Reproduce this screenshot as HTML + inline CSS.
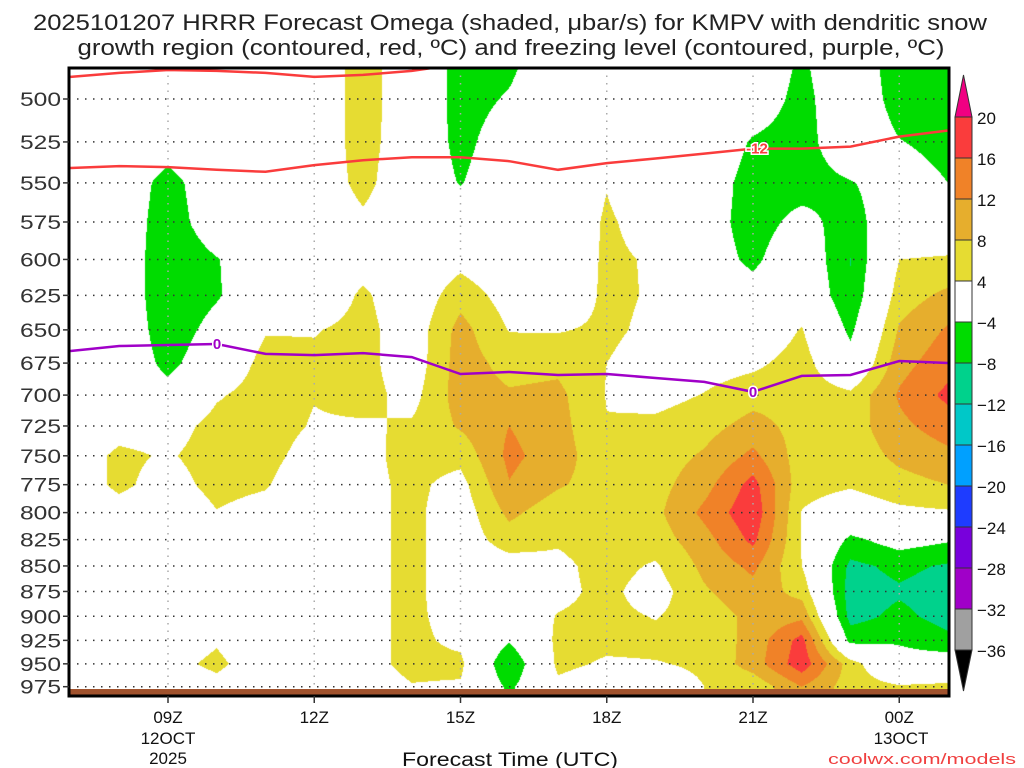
<!DOCTYPE html>
<html><head><meta charset="utf-8">
<style>
html,body{margin:0;padding:0;background:#fff;width:1024px;height:768px;overflow:hidden}
#wrap{position:relative;width:1024px;height:768px}
canvas{position:absolute;left:0;top:0}
svg{position:absolute;left:0;top:0}
text{font-family:"Liberation Sans",sans-serif}
</style></head>
<body>
<div id="wrap">
<canvas id="shade" width="1024" height="768"></canvas>
<svg id="ov" width="1024" height="768"></svg>
</div>
<script>
// ---- data ----
const hours = [7,8,9,10,11,12,13,14,15,16,17,18,19,20,21,22,23,24,25];
const levels = [475,500,525,550,575,600,625,650,675,700,725,750,775,800,825,850,875,900,925,950,975];
const c07=[0,0,0,0,0,0,0,0,0,0,0,1,1,0,0,0,0,0,0,0,0];
const c08=[0,0,0,0,0,0.5,0.5,0.5,0.5,0,2,5,5,2,0,0,0,0,0,0,0];
const c09=[0,0,-1,-6,-7,-8,-8,-7,-5.5,-2,2,3.5,2,0,0,0,0,0,1,2.5,1];
const c10=[0,0,0,0,-0.3,-4.3,-4.5,-2,0,3.5,5.5,6,5.5,3.8,1,0,0,0,3.5,5,2.5];
const c11=[0,0,0,0,0,0,0,3.7,5.5,6,6,5.5,4.5,2,0,0,0,0,0,1,0];
const c12=[0.6,0.6,0.6,0.5,0,0,0,3.7,5,4.2,3.6,2,0,0,0,0,0,0,0,0,0];
const c13=[6,6,6,5.5,3,2,4.8,5.5,5.5,5.5,3.5,2.7,2.7,2.7,2.7,2.7,2.7,2.7,2.7,2.7,2];
const c14=[1,1,0.5,0,0,0,0.5,1.2,1.2,2.5,4.5,5.5,5,5,5,5,5,5,5,5,3.8];
const c15=[-6,-6,-5.5,-4.3,0,2.5,6.5,9.5,10,10,8.5,5.3,2.5,1.5,1.5,1.5,1.5,2,3,5,3.5];
const c16=[-5.5,-3.5,-1,0,0,0,2,3.8,6.5,8.5,12,13,11.8,9,6,2,1,1,-3.5,-8.3,-5];
const c17=[0,0,0,0,0,0,0,3.7,7,9,9.5,10,8.5,5.5,4.5,3,3,4.2,5,5,3];
const c18=[0,0,0,3.8,4.6,4.8,5,4.8,4,3.8,4.2,5,6,6,6,5.5,5,5,5,3.5,1];
const c19=[0,0,0,0,2,3.5,3.5,3,2,2.5,5,6,6.5,7,6,3.5,2,3.8,5,3.8,2];
const c20=[0,0,0,-1,-1.7,-1.5,-0.5,0,2,4.2,6.5,8.5,10.5,13,10.5,9,7.5,6,5,4.5,4];
const c21=[0,-1,-4.5,-6,-6,-5,-2,0,3,6.5,9.5,13,17.5,19,17,13,10.5,9,9.5,10,5];
const c22=[-4.5,-5.5,-6,-6,-2.5,0,1,4.3,6,6.5,6.5,6,5.5,3.8,3.8,4,6.5,11,17.5,18.5,12];
const c23=[0,0,0,-4.3,-6,-8.1,-7.5,-5,-2,5,6,5.5,4.5,1,-5,-9,-10,-9.5,-5.5,6,6];
const c24=[-7,-6,-3.8,-1.5,0,4,6,8.5,10.5,12.5,11,9,6.5,3,-2,-7,-8.5,-7,-4.5,-2,4.5];
const c25=[-8,-7,-5.5,-4,0,4.5,9,12.5,14.5,17,14,11,8,3.5,-3.5,-8.5,-10,-9.5,-7,-1,5];
const omega=[c07,c08,c09,c10,c11,c12,c13,c14,c15,c16,c17,c18,c19,c20,c21,c22,c23,c24,c25];
// contour lines (pressure, mb) by hour
const dgzTopP=[487.6,485.4,483.8,484.3,485.4,487.6,486.5,484.3,482];
const dgzTopH=[7,8,9,10,11,12,13,14,14.6];
const dgzLowP=[540.8,539.6,540.2,541.9,543.1,539,536,534.2,534.2,536.6,541.9,537.8,535,532,529,529,527.8,521.8,518.2];
const frzP=[665.8,662,661.3,660.5,668,668.9,667.4,670.4,683.4,681.9,684.2,683.4,686.5,689.6,697.5,684.9,684.2,673.4,674.9];
const yTicks=[500,525,550,575,600,625,650,675,700,725,750,775,800,825,850,875,900,925,950,975];
const xTickH=[9,12,15,18,21,24];
const xTickLab=["09Z","12Z","15Z","18Z","21Z","00Z"];
const cbLevels=[20,16,12,8,4,-4,-8,-12,-16,-20,-24,-28,-32,-36];
const cbColors=["#fa3c3c","#f08228","#e6ae2d","#e6dc32","#ffffff","#00dc00","#00d28c","#00c8c8","#00a0ff","#1e3cff","#7800dc","#a000c8","#a0a0a0"];

// ---- scales ----
const PL=69,PR=949,PT=68,PB=696;
function xs(h){return 168+48.75*(h-9);}
function ys(p){return 99+880*Math.log(p/500);}
function hx(x){return 9+(x-168)/48.75;}
function py(y){return 500*Math.exp((y-99)/880);}
function colorOf(v){
  if(v>=20) return [240,0,130];
  if(v>=16) return [250,60,60];
  if(v>=12) return [240,130,40];
  if(v>=8) return [230,174,45];
  if(v>=4) return [230,220,50];
  if(v>-4) return null;
  if(v>-8) return [0,220,0];
  if(v>-12) return [0,210,140];
  if(v>-16) return [0,200,200];
  if(v>-20) return [0,160,255];
  if(v>-24) return [30,60,255];
  if(v>-28) return [120,0,220];
  if(v>-32) return [160,0,200];
  if(v>-36) return [160,160,160];
  return [0,0,0];
}
// ---- shading ----
(function(){
  const cv=document.getElementById('shade'),ctx=cv.getContext('2d');
  const img=ctx.createImageData(PR-PL,PB-PT);
  const nH=hours.length,nL=levels.length;
  for(let y=PT;y<PB;y++){
    const p=py(y+0.5);
    let fi=(p-levels[0])/25; fi=Math.max(0,Math.min(nL-1.0001,fi));
    const i0=Math.floor(fi),ty=fi-i0;
    for(let x=PL;x<PR;x++){
      const h=hx(x+0.5);
      let fj=h-hours[0]; fj=Math.max(0,Math.min(nH-1.0001,fj));
      const j0=Math.floor(fj),tx=fj-j0;
      const a=omega[j0][i0],b=omega[j0+1][i0],c=omega[j0][i0+1],d=omega[j0+1][i0+1];
      const v=(a*(1-tx)+b*tx)*(1-ty)+(c*(1-tx)+d*tx)*ty;
      const col=colorOf(v);
      const k=((y-PT)*(PR-PL)+(x-PL))*4;
      if(col){img.data[k]=col[0];img.data[k+1]=col[1];img.data[k+2]=col[2];}
      else{img.data[k]=255;img.data[k+1]=255;img.data[k+2]=255;}
      img.data[k+3]=255;
    }
  }
  ctx.putImageData(img,PL,PT);
})();
// ---- overlay ----
const NS='http://www.w3.org/2000/svg';
const svg=document.getElementById('ov');
function mk(tag,attrs,parent){const e=document.createElementNS(NS,tag);for(const k in attrs)e.setAttribute(k,attrs[k]);(parent||svg).appendChild(e);return e;}
const clip=mk('clipPath',{id:'pc'});mk('rect',{x:PL,y:PT,width:PR-PL,height:PB-PT},clip);
// grid
const grid=mk('g',{});


yTicks.forEach(p=>{const y=ys(p);mk('line',{x1:PL,x2:PR,y1:y,y2:y,stroke:'#333','stroke-width':1.5,'stroke-dasharray':'1.5 6.5'},grid);});
xTickH.forEach(h=>{const x=xs(h);mk('line',{x1:x,x2:x,y1:PT,y2:PB,stroke:'#aaa','stroke-width':1.5,'stroke-dasharray':'1.5 6'},grid);});
// ground
const gr=mk('rect',{x:PL,y:689,width:PR-PL,height:7,fill:'#a0522d'});


// lines
function poly(hs,ps,color,name){
  const pts=hs.map((h,i)=>xs(h).toFixed(1)+','+ys(ps[i]).toFixed(1)).join(' ');
  const l=mk('polyline',{points:pts,fill:'none',stroke:color,'stroke-width':2.5,'clip-path':'url(#pc)'});
  
  
}
poly(dgzTopH,dgzTopP,'#fa3c3c','dgz-top-contour');
poly(hours,dgzLowP,'#fa3c3c','dgz-minus12-contour');
poly(hours,frzP,'#a000c8','freezing-level-contour');
function lab(x,y,t,c,name){
  const e=mk('text',{x:x,y:y+5,'text-anchor':'middle','font-size':15,'font-weight':'bold',fill:c,stroke:'#fff','stroke-width':3,'paint-order':'stroke'});
  e.textContent=t;
  
  
}
lab(217,ys(frzP[3]),'0','#a000c8','freezing-label-1');
lab(753,ys(frzP[14]),'0','#a000c8','freezing-label-2');
lab(757,ys(dgzLowP[14]),'-12','#fa3c3c','dgz-label');
// frame
const fr=mk('rect',{x:PL,y:PT,width:PR-PL,height:PB-PT,fill:'none',stroke:'#000','stroke-width':3});


// y ticks
yTicks.forEach(p=>{const y=ys(p);
  mk('line',{x1:PL-6,x2:PL,y1:y,y2:y,stroke:'#333','stroke-width':1.5});
  const t=mk('text',{x:61,y:y+7,'text-anchor':'end','font-size':19,fill:'#333',textLength:41,lengthAdjust:'spacingAndGlyphs'});t.textContent=p;
  
  
});
// x ticks
xTickH.forEach((h,i)=>{const x=xs(h);
  mk('line',{x1:x,x2:x,y1:PB,y2:PB+7,stroke:'#333','stroke-width':1.5});
  const t=mk('text',{x:x,y:723,'text-anchor':'middle','font-size':17,fill:'#111'});t.textContent=xTickLab[i];
  
  
});
function txt(x,y,s,size,anchor,fill,name,len){const a={x:x,y:y,'text-anchor':anchor,'font-size':size,fill:fill};
  if(len){a.textLength=len;a.lengthAdjust='spacingAndGlyphs';}
  const t=mk('text',a);t.textContent=s;
  
  return t;}
txt(168,744,'12OCT',17,'middle','#111','date-label-1');
txt(168,764,'2025',17,'middle','#111','year-label');
txt(901,744,'13OCT',17,'middle','#111','date-label-2');
txt(510,766,'Forecast Time (UTC)',19,'middle','#111','x-axis-title',216);
txt(1016,764,'coolwx.com/models',15,'end','#f04040','credit',188);
txt(510,30,'2025101207 HRRR Forecast Omega (shaded, \u03bcbar/s) for KMPV with dendritic snow',22,'middle','#222','title-line-1',954);
txt(511,55,'growth region (contoured, red, \u00baC) and freezing level (contoured, purple, \u00baC)',22,'middle','#222','title-line-2',867);
// colorbar
const cb=mk('g',{});


const cbX=955,cbW=17,cbTop=117,cbStep=41;
mk('polygon',{points:`${cbX},${cbTop} ${cbX+cbW},${cbTop} ${cbX+cbW/2},75`,fill:'#f00082',stroke:'#333','stroke-width':1},cb);
cbColors.forEach((c,i)=>{mk('rect',{x:cbX,y:cbTop+i*cbStep,width:cbW,height:cbStep,fill:c,stroke:'#333','stroke-width':1},cb);});
const cbBot=cbTop+cbColors.length*cbStep;
mk('polygon',{points:`${cbX},${cbBot} ${cbX+cbW},${cbBot} ${cbX+cbW/2},691`,fill:'#000',stroke:'#333','stroke-width':1},cb);
cbLevels.forEach((v,i)=>{const t=mk('text',{x:977,y:cbTop+i*cbStep+7,'font-size':17,fill:'#111'},cb);t.textContent=v<0?'\u2212'+(-v):String(v);
  
  
});
</script>
</body></html>
